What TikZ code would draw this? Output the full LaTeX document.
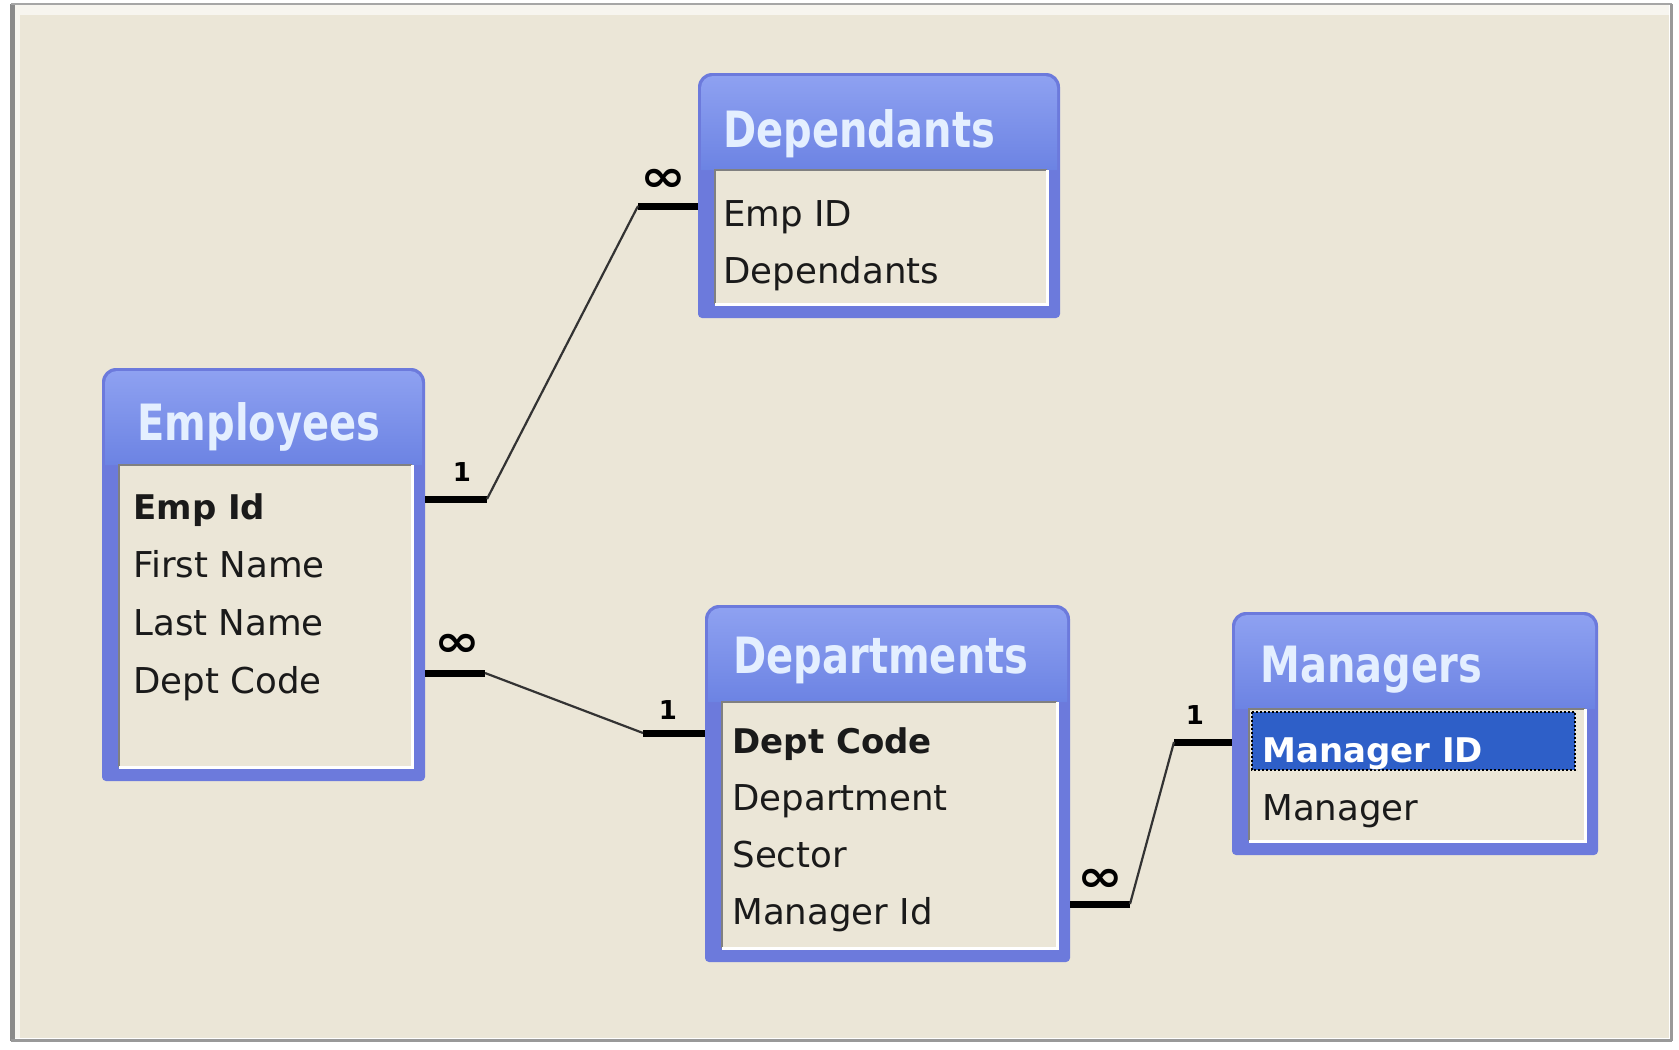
\documentclass[tikz,border=0pt]{standalone}
\usepackage{fontspec}
\setmainfont{DejaVu Sans}
\newfontfamily\titlefont[FakeStretch=0.8]{DejaVu Sans}
\usetikzlibrary{calc}
\definecolor{bgbeige}{HTML}{EBE6D7}
\definecolor{tblborder}{HTML}{6C7ADC}
\definecolor{tbltop}{HTML}{8EA1F1}
\definecolor{tblbot}{HTML}{6C83E3}
\definecolor{titletext}{HTML}{E4EFFF}
\definecolor{selblue}{HTML}{2E5FC8}
\definecolor{framegray}{HTML}{8A8A8A}
\definecolor{fieldtext}{HTML}{1A1A1A}
\newcommand{\dbframe}[1]{%
  \fill[tblborder] (#1.south west) [rounded corners=7pt] -- (#1.north west) -- (#1.north east) [rounded corners=2pt] -- (#1.south east) -- cycle;
  \shade[top color=tbltop, bottom color=tblbot] ($(#1.north west)+(3,97)$) [rounded corners=6pt] -- ($(#1.north west)+(3,3)$) -- ($(#1.north east)+(-3,3)$) [sharp corners] -- ($(#1.north east)+(-3,97)$) -- cycle;
  \fill[bgbeige] ($(#1.north west)+(17,97)$) rectangle ($(#1.south east)+(-13,-14)$);
  \draw[black!50, line width=1pt] ($(#1.south west)+(17,-14)$) -- ($(#1.north west)+(17,97)$) -- ($(#1.north east)+(-13,97)$);
  \draw[white, line width=1.5pt] ($(#1.north east)+(-13,97)$) -- ($(#1.south east)+(-13,-14)$) -- ($(#1.south west)+(17,-14)$);
}
\tikzset{
  tbl/.style={inner sep=0pt, outer sep=0pt, draw=none},
  tbltitle/.style={anchor=base west, inner sep=0pt, text=titletext, font=\titlefont\bfseries\fontsize{25}{25}\selectfont},
  field/.style={anchor=base west, inner sep=0pt, text height=20pt, text depth=0pt, text=fieldtext, font=\fontsize{17.8}{17.8}\selectfont},
  keyfield/.style={field, font=\bfseries\fontsize{17}{17}\selectfont},
  card/.style={line width=3.5pt, black},
  link/.style={line width=1.1pt, black!80},
  cardlbl/.style={inner sep=0pt, font=\bfseries\fontsize{13}{13}\selectfont},
  manylbl/.style={inner sep=0pt, font=\bfseries\fontsize{22}{22}\selectfont},
}
\begin{document}
\begin{tikzpicture}[x=0.5pt,y=-0.5pt]
\useasboundingbox (0,0) rectangle (1679,1049);
% window frame
\fill[white] (0,0) rectangle (1679,1049);
\fill[bgbeige] (15,5) rectangle (1669,1038);
\fill[white!60!bgbeige] (15,5) rectangle (1669,15);
\fill[white!60!bgbeige] (15,5) rectangle (20,1038);
\draw[framegray, line width=2.5pt] (12.5,4) -- (12.5,1041);
\draw[black!35, line width=1pt] (11,4) -- (1672,4);
\draw[black!40, line width=1.5pt] (1671,4) -- (1671,1041);
\draw[black!40, line width=1.5pt] (11,1040) -- (1672,1040);
% table anchors
\node[tbl, minimum width=161.5pt, minimum height=206.5pt] (emp) at (263.5,574.5) {};
\node[tbl, minimum width=181pt, minimum height=122.5pt] (dep) at (879,195.5) {};
\node[tbl, minimum width=182.5pt, minimum height=178.5pt] (dept) at (887.5,783.5) {};
\node[tbl, minimum width=183pt, minimum height=121.5pt] (mgr) at (1415,733.5) {};
\dbframe{emp}
\dbframe{dep}
\dbframe{dept}
\dbframe{mgr}
% titles
\node[tbltitle] (empT) at (137,440) {Employees};
\node[tbltitle] (depT) at (723,147) {Dependants};
\node[tbltitle] (deptT) at (733,673) {Departments};
\node[tbltitle] (mgrT) at (1260,682) {Managers};
% fields
\node[keyfield] (empid) at (133,519) {Emp Id};
\node[field] (empfn) at (133,577) {First Name};
\node[field] (empln) at (133,635) {Last Name};
\node[field] (empdc) at (133,693) {Dept Code};
\node[field] (depid) at (723,226) {Emp ID};
\node[field] (depdep) at (723,283) {Dependants};
\node[keyfield] (dcode) at (732,753) {Dept Code};
\node[field] (dname) at (732,810) {Department};
\node[field] (dsector) at (732,867) {Sector};
\node[field] (dmgr) at (732,924) {Manager Id};
\fill[selblue] (1252,712) rectangle (1575,770);
\draw[black, densely dotted, line width=1pt] (1252,712) rectangle (1575,770);
\node[keyfield, text=white] (mid) at (1262,762) {Manager ID};
\node[field] (mname) at (1262,820) {Manager};
% connectors
\draw[card] (empid -| emp.east) -- ++(62,0) coordinate (c1a);
\draw[card] (depid -| dep.west) -- ++(-60,0) coordinate (c1b);
\draw[link] (c1a) -- (c1b);
\draw[card] (empdc -| emp.east) -- ++(60,0) coordinate (c2a);
\draw[card] (dcode -| dept.west) -- ++(-62,0) coordinate (c2b);
\draw[link] (c2a) -- (c2b);
\draw[card] (dmgr -| dept.east) -- ++(60,0) coordinate (c3a);
\draw[card] (mid -| mgr.west) -- ++(-58,0) coordinate (c3b);
\draw[link] (c3a) -- (c3b);
% cardinality labels
\node[cardlbl] (l1a) at (462,472) {1};
\node[manylbl] (l1b) at (663,180) {\scalebox{1.25}[1]{∞}};
\node[manylbl] (l2a) at (457,645) {\scalebox{1.25}[1]{∞}};
\node[cardlbl] (l2b) at (668,710) {1};
\node[manylbl] (l3a) at (1100,880) {\scalebox{1.25}[1]{∞}};
\node[cardlbl] (l3b) at (1195,715) {1};
\end{tikzpicture}
\end{document}
